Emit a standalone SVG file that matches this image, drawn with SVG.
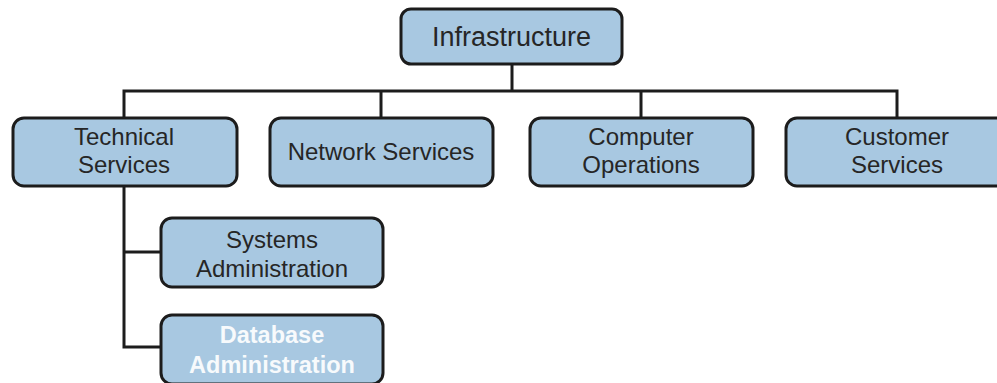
<svg xmlns="http://www.w3.org/2000/svg" width="997" height="383" viewBox="0 0 997 383">
<style>
.box{fill:#a8c8e1;stroke:#1c1c1c;stroke-width:3}
.t{font-family:"Liberation Sans",Arial,sans-serif;font-size:24px;fill:#262626;text-anchor:middle}
.top{font-size:27px}
.w{fill:#f7fafc;font-weight:bold;font-size:23.5px}
.c{fill:none;stroke:#1c1c1c;stroke-width:3}
</style>
<rect width="997" height="383" fill="#ffffff"/>
<g id="connectors">
<path class="c" d="M512 64 V91 M124 118 V91 H897 V118 M381 91 V118 M641 91 V118 M124 186 V347 H161 M124 252 H161"/>
</g>
<g id="infrastructure">
<rect class="box" x="401" y="9" width="221" height="55" rx="10"/>
<text class="t top" x="511.5" y="46">Infrastructure</text>
</g>
<g id="technical-services">
<rect class="box" x="13" y="118" width="224" height="68" rx="11"/>
<text class="t" x="124" y="145">Technical</text>
<text class="t" x="124" y="173">Services</text>
</g>
<g id="network-services">
<rect class="box" x="270" y="118" width="223" height="68" rx="11"/>
<text class="t" x="381" y="160">Network Services</text>
</g>
<g id="computer-operations">
<rect class="box" x="530" y="118" width="223" height="68" rx="11"/>
<text class="t" x="641" y="145">Computer</text>
<text class="t" x="641" y="173">Operations</text>
</g>
<g id="customer-services">
<rect class="box" x="786" y="118" width="224" height="68" rx="11"/>
<text class="t" x="897" y="145">Customer</text>
<text class="t" x="897" y="173">Services</text>
</g>
<g id="systems-administration">
<rect class="box" x="161" y="218" width="222" height="69" rx="11"/>
<text class="t" x="272" y="248">Systems</text>
<text class="t" x="272" y="277">Administration</text>
</g>
<g id="database-administration">
<rect class="box" x="161" y="315" width="222" height="69" rx="11"/>
<text class="t w" x="272" y="343">Database</text>
<text class="t w" x="272" y="373">Administration</text>
</g>
</svg>
